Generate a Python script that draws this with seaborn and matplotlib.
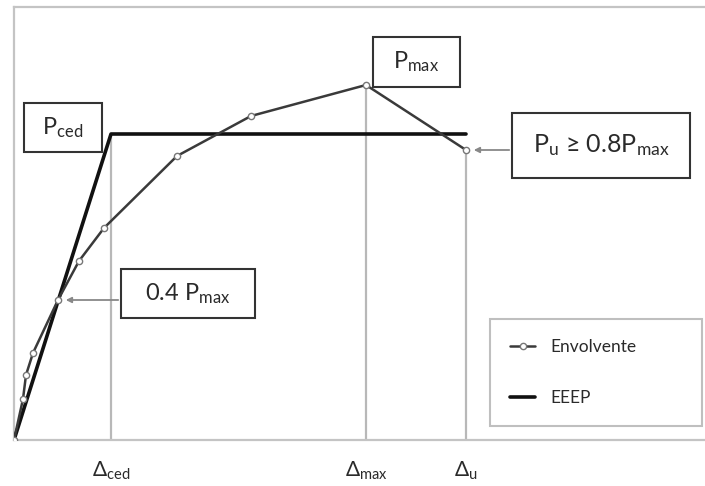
import numpy as np
import seaborn as sns
import matplotlib.pyplot as plt
from matplotlib.patches import Rectangle

# Envelope curve (schematic units)
env_x = [0, 9, 12, 19, 44, 65, 90, 163, 237, 352, 452]
env_y = [0, 41, 65, 87, 140, 179, 212, 284, 324, 355, 290]

# Equivalent elastic-plastic (EEEP) curve
eeep_x = [0, 97, 452]
eeep_y = [0, 306, 306]

legend_labels = ["Envolvente", "EEEP"]
x_labels = ["ced", "max", "u"]

sns.set_style("white")
plt.rcParams["font.family"] = ["Lato", "DejaVu Sans"]
plt.rcParams["mathtext.fontset"] = "custom"
plt.rcParams["mathtext.rm"] = "Lato"
plt.rcParams["mathtext.it"] = "Lato"

fig = plt.figure(figsize=(7.05, 4.86), dpi=100)
ax = fig.add_axes([14 / 705, 46 / 486, 700 / 705, 433 / 486])
ax.set_xlim(0, 700)
ax.set_ylim(0, 433)

grey = "#c4c4c4"
for s in ["left", "bottom", "top"]:
    ax.spines[s].set_color(grey)
    ax.spines[s].set_linewidth(1.6)
ax.spines["right"].set_visible(False)
ax.set_xticks([])
ax.set_yticks([])

# Reference vertical lines
i_max = int(np.argmax(env_y))
d_ced, d_max, d_u = eeep_x[1], env_x[i_max], env_x[-1]
ax.vlines([d_ced, d_max, d_u], 0, [eeep_y[1], env_y[i_max], env_y[-1]],
          color="#b8b8b8", lw=1.6, zorder=1)

sns.lineplot(x=eeep_x, y=eeep_y, sort=False, color="#111111", lw=2.6,
             label=legend_labels[1], ax=ax, zorder=3)
sns.lineplot(x=env_x, y=env_y, sort=False, color="#3a3a3a", lw=1.8,
             marker="o", markersize=4.5, markerfacecolor="white",
             markeredgecolor="#777777", markeredgewidth=1.0,
             label=legend_labels[0], ax=ax, zorder=4)

# Annotation boxes
def box(x0, y0, w, h, txt, fs):
    ax.add_patch(Rectangle((x0, y0), w, h, fill=True, facecolor="white",
                           edgecolor="#333333", lw=1.5, zorder=5))
    ax.text(x0 + w / 2, y0 + h / 2, txt, ha="center", va="center",
            fontsize=fs, color="#2a2a2a", zorder=6)

box(10, 288, 78, 49, r"P$_{\mathrm{ced}}$", 17)
box(107, 122, 134, 49, r"0.4 P$_{\mathrm{max}}$", 17)
box(359, 353, 87, 50, r"P$_{\mathrm{max}}$", 17)
box(498, 262, 178, 65, r"P$_{\mathrm{u}}$ ≥ 0.8P$_{\mathrm{max}}$", 18)

arrow = dict(arrowstyle="-|>", color="#888888", lw=1.3, mutation_scale=8)
ax.annotate("", xy=(env_x[4] + 5, env_y[4]), xytext=(107, env_y[4]),
            arrowprops=arrow, zorder=5)
ax.annotate("", xy=(env_x[-1] + 5, env_y[-1]), xytext=(498, env_y[-1]),
            arrowprops=arrow, zorder=5)

# Displacement labels under the axis
for xv, lab in zip([d_ced, d_max, d_u], x_labels):
    ax.text(xv, -31, "Δ$_{\\mathrm{" + lab + "}}$", ha="center", va="center",
            fontsize=15, color="#2a2a2a", clip_on=False)

# Legend
handles, labels = ax.get_legend_handles_labels()
order = [labels.index(l) for l in legend_labels]
leg = ax.legend([handles[i] for i in order], [labels[i] for i in order],
                loc="upper left", bbox_to_anchor=(476 / 700, 121 / 433, 212 / 700, 0),
                mode="expand", fontsize=12.5, frameon=True, fancybox=False,
                labelspacing=2.0, borderpad=1.15, handlelength=1.45,
                handletextpad=0.9, borderaxespad=0)
leg.get_frame().set_edgecolor("#b0b0b0")
leg.get_frame().set_linewidth(1.5)
for t in leg.get_texts():
    t.set_color("#2a2a2a")

plt.savefig("out.png", dpi=100)
